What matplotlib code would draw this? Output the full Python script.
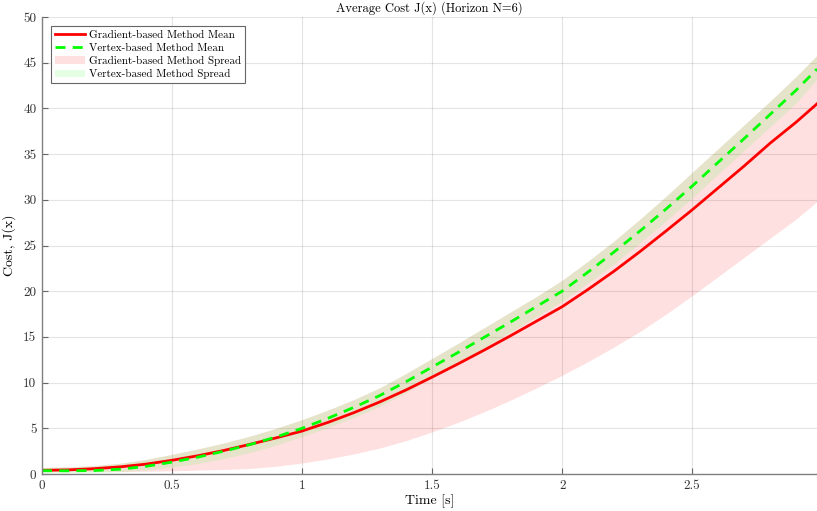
import numpy as np
import matplotlib
matplotlib.use("Agg")
import matplotlib.pyplot as plt
from matplotlib.ticker import FormatStrFormatter, MultipleLocator

plt.rcParams['font.family'] = 'serif'
plt.rcParams['font.serif'] = ['cmr10']
plt.rcParams['mathtext.fontset'] = 'cm'
plt.rcParams['axes.formatter.use_mathtext'] = True

# time samples [s]
t = [0, 0.1, 0.2, 0.3, 0.4, 0.5, 0.6, 0.7, 0.8, 0.9, 1.0, 1.1, 1.2, 1.3, 1.4, 1.5,
     1.6, 1.7, 1.8, 1.9, 2.0, 2.1, 2.2, 2.3, 2.4, 2.5, 2.6, 2.7, 2.8, 2.9, 2.98]

# gradient-based method
grad_mean = [0.40, 0.45, 0.58, 0.78, 1.08, 1.50, 2.00, 2.58, 3.25, 3.95, 4.70,
             5.65, 6.72, 7.90, 9.20, 10.60, 12.05, 13.55, 15.10, 16.70, 18.30,
             20.20, 22.20, 24.35, 26.60, 28.90, 31.30, 33.70, 36.20, 38.50, 40.50]
grad_lo = [0.30, 0.28, 0.27, 0.27, 0.30, 0.35, 0.42, 0.50, 0.60, 0.85, 1.20,
           1.65, 2.20, 2.85, 3.65, 4.60, 5.65, 6.80, 8.05, 9.40, 10.80,
           12.30, 13.90, 15.60, 17.50, 19.50, 21.60, 23.70, 25.80, 27.90, 29.80]
grad_hi = [0.72, 0.78, 0.92, 1.18, 1.60, 2.15, 2.75, 3.40, 4.15, 5.00, 5.95,
           7.00, 8.15, 9.45, 11.00, 12.65, 14.30, 16.00, 17.70, 19.40, 21.20,
           23.30, 25.50, 27.90, 30.40, 33.00, 35.60, 38.20, 40.80, 43.50, 45.80]

# vertex-based method
vert_mean = [0.36, 0.35, 0.38, 0.52, 0.84, 1.30, 1.85, 2.50, 3.22, 4.05, 5.00,
             6.10, 7.30, 8.60, 10.10, 11.70, 13.30, 14.95, 16.60, 18.30, 20.00,
             22.10, 24.30, 26.60, 29.00, 31.50, 34.10, 36.70, 39.35, 42.00, 44.30]
vert_lo = [0.15, 0.12, 0.15, 0.25, 0.45, 0.75, 1.15, 1.70, 2.35, 3.15, 4.10,
           5.10, 6.20, 7.40, 8.90, 10.60, 12.20, 13.85, 15.50, 17.20, 18.90,
           20.90, 23.00, 25.30, 27.70, 30.20, 32.80, 35.40, 38.00, 40.60, 43.20]
vert_hi = [0.72, 0.78, 0.92, 1.18, 1.60, 2.15, 2.75, 3.40, 4.15, 5.00, 5.95,
           7.00, 8.15, 9.45, 11.00, 12.65, 14.30, 16.00, 17.70, 19.40, 21.20,
           23.30, 25.50, 27.90, 30.40, 33.00, 35.60, 38.20, 40.80, 43.50, 45.80]

fig = plt.figure(figsize=(8.17, 5.11), dpi=100)
ax = fig.add_axes([42/817, 37/511, 775/817, 457/511])

f1 = ax.fill_between(t, grad_lo, grad_hi, color=(1, 0, 0), alpha=0.12, lw=0,
                     label='Gradient-based Method Spread')
f2 = ax.fill_between(t, vert_lo, vert_hi, color=(0, 1, 0), alpha=0.1, lw=0,
                     label='Vertex-based Method Spread')
l1, = ax.plot(t, grad_mean, color=(1, 0, 0), lw=2, label='Gradient-based Method Mean')
l2, = ax.plot(t, vert_mean, color=(0, 1, 0), lw=2, ls=(0, (3.6, 2.6)),
              label='Vertex-based Method Mean')

ax.set_xlim(0, 2.98)
ax.set_ylim(0, 50)
ax.xaxis.set_major_locator(MultipleLocator(0.5))
ax.yaxis.set_major_locator(MultipleLocator(5))
ax.xaxis.set_major_formatter(FormatStrFormatter('%g'))
ax.yaxis.set_major_formatter(FormatStrFormatter('%g'))

ax.grid(True, color=(0.15, 0.15, 0.15), alpha=0.12, lw=0.8)
ax.set_axisbelow(True)
for s in ['top', 'right']:
    ax.spines[s].set_visible(False)
for s in ['left', 'bottom']:
    ax.spines[s].set_color((0.5, 0.5, 0.5))
    ax.spines[s].set_linewidth(1.0)
ax.tick_params(direction='in', length=4, color=(0.4, 0.4, 0.4),
               labelsize=9.5, labelcolor=(0.2, 0.2, 0.2), pad=4)

ax.set_title('Average Cost J(x) (Horizon N=6)', fontsize=9, pad=4)
ax.set_xlabel('Time [s]', fontsize=10, labelpad=2)
ax.set_ylabel('Cost, J(x)', fontsize=10, labelpad=5)

leg = ax.legend(handles=[l1, l2, f1, f2], loc='upper left', fontsize=8,
                fancybox=False, framealpha=1, edgecolor=(0.4, 0.4, 0.4),
                borderaxespad=0.8, handlelength=2.7, labelspacing=0.3,
                borderpad=0.35, handletextpad=0.4)
leg.get_frame().set_linewidth(0.8)

fig.savefig('out.png', dpi=100)
